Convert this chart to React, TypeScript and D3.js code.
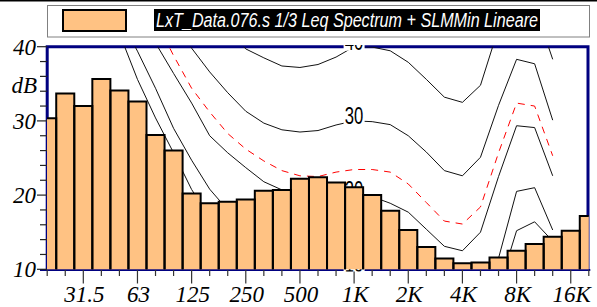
import React, { useEffect, useRef } from 'react';
import * as d3 from 'd3';

// third-octave bands, 20 Hz .. 20 kHz
const bands = ['20', '25', '31.5', '40', '50', '63', '80', '100', '125', '160', '200', '250', '315', '400', '500', '630', '800', '1K', '1.25K', '1.6K', '2K', '2.5K', '3.15K', '4K', '5K', '6.3K', '8K', '10K', '12.5K', '16K', '20K'];
const octaveLabels = ['31.5', '63', '125', '250', '500', '1K', '2K', '4K', '8K', '16K'];

// Leq spectrum (dB), one value per band
const leqValues = [30.35, 33.7, 32.0, 35.65, 34.1, 32.6, 28.1, 26.0, 20.2, 18.9, 19.1, 19.4, 20.6, 20.7, 22.2, 22.4, 21.7, 21.05, 20.0, 17.9, 15.3, 13.0, 11.45, 10.8, 10.9, 11.6, 12.5, 13.4, 14.4, 15.2, 17.2];

// contour curves, 20 Hz .. 12.5 kHz
const curve40 = [72, 69, 66, 63, 60, 57, 54, 51, 48, 45, 42.3, 39.7, 38.5, 37.4, 37.2, 37.6, 38.6, 40.0, 39.95, 39.45, 37.9, 35.6, 33.2, 32.5, 34.8, 42.5, 46.5, 45.5, 38.3];
const curve30 = [67.5, 64, 60.5, 57, 53.5, 50, 46.5, 43.2, 39.8, 36.6, 33.8, 31.3, 29.7, 28.8, 28.5, 28.7, 29.45, 30.0, 29.9, 29.5, 28.0, 25.8, 23.3, 22.6, 25.1, 32.1, 38.3, 37.7, 30.1];
const curveMin = [64.5, 61, 57.5, 54, 50.5, 47, 43.6, 38.8, 34.4, 31.2, 28.3, 26.2, 24.6, 23.3, 22.6, 22.5, 23.1, 23.45, 23.45, 23.1, 21.5, 19.0, 16.5, 16.1, 18.4, 25.7, 32.4, 32.0, 25.3];
const curve20 = [64.5, 60.5, 56.5, 52.5, 48.5, 44.5, 40.5, 36.4, 32.4, 28.0, 25.7, 23.7, 21.8, 20.7, 20.0, 19.7, 19.7, 20.0, 19.8, 18.9, 17.7, 15.4, 13.1, 12.5, 15.0, 22.5, 29.35, 29.1, 22.6];
const curve10 = [62, 57.5, 53, 48.5, 44, 39.4, 34.4, 29.0, 24.7, 20.8, 18.0, 16.0, 14.3, 12.8, 11.6, 10.8, 10.3, 10.0, 10.0, 9.7, 8.5, 6.5, 4.5, 4.0, 6.0, 11.5, 20.5, 21.0, 15.3];
const curve0 = [58, 54, 50, 46, 41.8, 35.6, 30.4, 25.7, 20.75, 17.0, 14.0, 11.5, 9.5, 8.0, 6.8, 5.8, 5.2, 5.0, 4.8, 4.3, 3.0, 1.0, -1.0, -1.5, 0.5, 7.3, 15.2, 16.4, 13.8];

const yTicks = [10, 20, 30, 40];
const legendText = 'LxT_Data.076.s 1/3 Leq Spectrum + SLMMin Lineare';

const width = 597;
const height = 307;

const App: React.FC = () => {
  const svgRef = useRef<SVGSVGElement>(null);

  useEffect(() => {
    if (!svgRef.current) return;
    const svg = d3.select(svgRef.current);
    svg.selectAll('*').remove();

    const left = 47.2, right = 588.8, top = 46.7, bottom = 269.3;
    const x = d3.scaleLinear().domain([0, bands.length - 1]).range([left, right]);
    const y = d3.scaleLinear().domain([10, 40]).range([bottom, top]);
    const half = (x(1) - x(0)) / 2;
    const navy = '#000080';
    const barFill = '#ffc283';

    const defs = svg.append('defs');
    defs.append('clipPath').attr('id', 'plotClip')
      .append('rect').attr('x', left).attr('y', top).attr('width', right - left).attr('height', bottom - top);
    defs.append('clipPath').attr('id', 'labelClip')
      .append('rect').attr('x', left).attr('y', 45).attr('width', right - left).attr('height', 271.6 - 45);
    defs.append('clipPath').attr('id', 'barClip')
      .append('rect').attr('x', 47).attr('y', 0).attr('width', right - 47).attr('height', height);

    svg.append('rect').attr('width', width).attr('height', height).attr('fill', '#fff');
    svg.append('rect').attr('width', width).attr('height', 1.5).attr('fill', '#000');

    // legend
    svg.append('rect')
      .attr('x', 47.5).attr('y', 5.5).attr('width', 542).attr('height', 31.5)
      .attr('fill', '#fff').attr('stroke', '#808080').attr('stroke-width', 1);
    svg.append('rect')
      .attr('x', 63).attr('y', 10).attr('width', 63).attr('height', 21)
      .attr('fill', barFill).attr('stroke', '#000').attr('stroke-width', 2);
    svg.append('rect')
      .attr('x', 154).attr('y', 9).attr('width', 386).attr('height', 22).attr('fill', '#000');
    svg.append('text')
      .attr('x', 156).attr('y', 26.5)
      .attr('fill', '#fff')
      .attr('font-family', 'Liberation Sans, Arial, sans-serif')
      .attr('font-style', 'italic')
      .attr('font-size', 20)
      .attr('textLength', 382)
      .attr('lengthAdjust', 'spacingAndGlyphs')
      .text(legendText);

    // frame
    svg.append('path')
      .attr('d', `M${left},${bottom} V${top} H${right - 0.8} V${bottom}`)
      .attr('fill', 'none').attr('stroke', navy).attr('stroke-width', 3);
    svg.append('line')
      .attr('x1', 40).attr('x2', right + 1.5).attr('y1', 270).attr('y2', 270)
      .attr('stroke', navy).attr('stroke-width', 2);

    // y ticks every 2 dB
    svg.append('g').selectAll('line')
      .data(d3.range(10, 41, 2))
      .join('line')
      .attr('x1', d => (d % 10 === 0 ? 37 : 40))
      .attr('x2', left)
      .attr('y1', d => y(d)).attr('y2', d => y(d))
      .attr('stroke', '#222').attr('stroke-width', 1.2);

    svg.append('g').selectAll('text')
      .data(yTicks)
      .join('text')
      .attr('x', 36).attr('y', d => y(d) + 8)
      .attr('text-anchor', 'end')
      .attr('font-family', 'Liberation Serif, Times New Roman, serif')
      .attr('font-style', 'italic')
      .attr('font-size', 23)
      .text(d => d);
    svg.append('text')
      .attr('x', 37).attr('y', 93)
      .attr('text-anchor', 'end')
      .attr('font-family', 'Liberation Serif, Times New Roman, serif')
      .attr('font-style', 'italic')
      .attr('font-size', 23)
      .text('dB');

    // x ticks
    svg.append('g').selectAll('line')
      .data(bands)
      .join('line')
      .attr('x1', (d, i) => x(i)).attr('x2', (d, i) => x(i))
      .attr('y1', 270)
      .attr('y2', d => (octaveLabels.includes(d) ? 283.5 : 276))
      .attr('stroke', '#333').attr('stroke-width', 1.2);

    svg.append('g').selectAll('text')
      .data(octaveLabels)
      .join('text')
      .attr('x', d => x(bands.indexOf(d)) + 1)
      .attr('y', 301.5)
      .attr('text-anchor', 'middle')
      .attr('font-family', 'Liberation Serif, Times New Roman, serif')
      .attr('font-style', 'italic')
      .attr('font-size', 23)
      .text(d => d);

    // contour curves
    const line = d3.line<number>()
      .x((d, i) => x(i))
      .y(d => y(d));
    const curves = [
      { values: curve40, dashed: false },
      { values: curve30, dashed: false },
      { values: curveMin, dashed: true },
      { values: curve20, dashed: false },
      { values: curve10, dashed: false },
      { values: curve0, dashed: false },
    ];
    const cg = svg.append('g').attr('clip-path', 'url(#plotClip)');
    cg.selectAll('path')
      .data(curves)
      .join('path')
      .attr('d', d => line(d.values))
      .attr('fill', 'none')
      .attr('stroke', d => (d.dashed ? '#ff0000' : '#111'))
      .attr('stroke-width', 1)
      .attr('stroke-dasharray', d => (d.dashed ? '7,6' : null));

    // contour labels at 1 kHz
    const labelled = [
      { values: curve40, text: '40' },
      { values: curve30, text: '30' },
      { values: curve20, text: '20' },
      { values: curve10, text: '10' },
    ];
    const k = bands.indexOf('1K');
    const lg = svg.append('g').attr('clip-path', 'url(#labelClip)')
      .selectAll('g')
      .data(labelled)
      .join('g')
      .attr('transform', d => `translate(${x(k)},${y(d.values[k])})`);
    lg.append('rect')
      .attr('x', -10.5).attr('y', -15).attr('width', 21).attr('height', 19)
      .attr('fill', '#fff');
    lg.append('text')
      .attr('x', 0).attr('y', 3)
      .attr('text-anchor', 'middle')
      .attr('font-family', 'Liberation Sans, Arial, sans-serif')
      .attr('font-size', 23)
      .attr('textLength', 18.5)
      .attr('lengthAdjust', 'spacingAndGlyphs')
      .text(d => d.text);

    // bars
    const bg = svg.append('g').attr('clip-path', 'url(#barClip)');
    bg.selectAll('rect')
      .data(leqValues)
      .join('rect')
      .attr('x', (d, i) => x(i) - half)
      .attr('y', d => y(d))
      .attr('width', half * 2)
      .attr('height', d => bottom - y(d))
      .attr('fill', barFill);
    bg.selectAll('path')
      .data(leqValues)
      .join('path')
      .attr('d', (d, i) => `M${x(i) - half},${bottom} V${y(d)} H${x(i) + half} V${bottom}`)
      .attr('fill', 'none')
      .attr('stroke', '#000')
      .attr('stroke-width', 2);
  }, []);

  return (
    <div style={{ position: 'absolute', left: 0, top: 0 }}>
      <svg ref={svgRef} width={width} height={height} style={{ display: 'block' }}></svg>
    </div>
  );
};

export default App;
